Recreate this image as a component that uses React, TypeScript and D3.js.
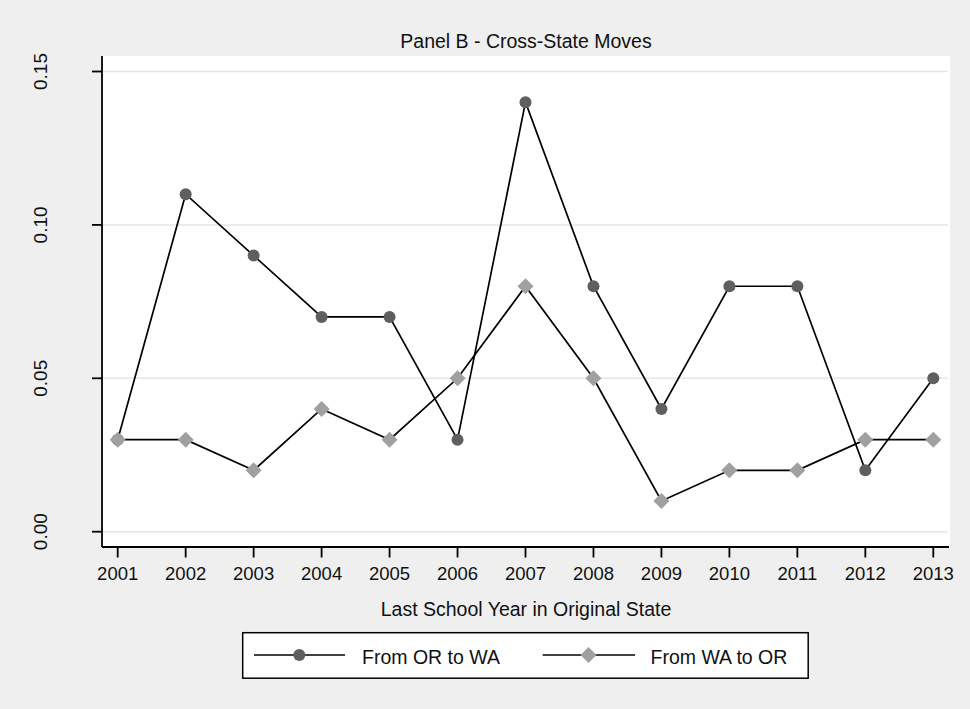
import * as d3 from "d3";

const years = [2001, 2002, 2003, 2004, 2005, 2006, 2007, 2008, 2009, 2010, 2011, 2012, 2013];
const orToWa = [0.03, 0.11, 0.09, 0.07, 0.07, 0.03, 0.14, 0.08, 0.04, 0.08, 0.08, 0.02, 0.05];
const waToOr = [0.03, 0.03, 0.02, 0.04, 0.03, 0.05, 0.08, 0.05, 0.01, 0.02, 0.02, 0.03, 0.03];
const yTicks = [0, 0.05, 0.1, 0.15];

const W = 970;
const H = 709;
const FONT = "'Liberation Sans', Arial, sans-serif";

const plot = { left: 102, right: 950, top: 56, bottom: 547 };

export default function App() {
  const x = d3.scaleLinear().domain([2001, 2013]).range([117.7, 933.3]);
  const y = d3.scaleLinear().domain([0, 0.15]).range([531.7, 71.5]);

  const line = d3
    .line<number>()
    .x((_, i) => x(years[i]))
    .y((d) => y(d));

  const diamond = (cx: number, cy: number, r: number) =>
    `M${cx},${cy - r}L${cx + r},${cy}L${cx},${cy + r}L${cx - r},${cy}Z`;

  const legendY = 655;

  return (
    <svg
      width={W}
      height={H}
      style={{ position: "absolute", left: 0, top: 0, display: "block" }}
      fontFamily={FONT}
    >
      <rect x={0} y={0} width={W} height={H} fill="#efefef" />
      <rect
        x={plot.left}
        y={plot.top}
        width={plot.right - plot.left}
        height={plot.bottom - plot.top}
        fill="#ffffff"
      />

      {/* gridlines */}
      {yTicks.map((t) => (
        <line
          key={"g" + t}
          x1={plot.left}
          x2={plot.right - 2}
          y1={y(t)}
          y2={y(t)}
          stroke="#e6e6e6"
          strokeWidth={1.5}
        />
      ))}

      {/* title */}
      <text x={526} y={48} textAnchor="middle" fontSize={19.5} fill="#111">
        Panel B - Cross-State Moves
      </text>

      {/* y axis */}
      <line x1={plot.left} x2={plot.left} y1={plot.top} y2={plot.bottom} stroke="#000" strokeWidth={1.8} />
      {yTicks.map((t) => (
        <g key={"y" + t}>
          <line x1={92} x2={plot.left} y1={y(t)} y2={y(t)} stroke="#000" strokeWidth={1.8} />
          <text
            transform={`translate(46.5,${y(t)}) rotate(-90)`}
            textAnchor="middle"
            fontSize={19}
            fill="#111"
          >
            {d3.format(".2f")(t)}
          </text>
        </g>
      ))}

      {/* x axis */}
      <line x1={plot.left} x2={plot.right - 1} y1={plot.bottom} y2={plot.bottom} stroke="#000" strokeWidth={1.8} />
      {years.map((yr) => (
        <g key={"x" + yr}>
          <line x1={x(yr)} x2={x(yr)} y1={plot.bottom} y2={557.5} stroke="#000" strokeWidth={1.8} />
          <text x={x(yr)} y={580} textAnchor="middle" fontSize={18.5} fill="#111">
            {yr}
          </text>
        </g>
      ))}
      <text x={526} y={616} textAnchor="middle" fontSize={19.5} fill="#111">
        Last School Year in Original State
      </text>

      {/* series */}
      <path d={line(orToWa) ?? ""} fill="none" stroke="#000" strokeWidth={1.7} />
      {orToWa.map((v, i) => (
        <circle key={"c" + i} cx={x(years[i])} cy={y(v)} r={6} fill="#5f5f5f" />
      ))}
      <path d={line(waToOr) ?? ""} fill="none" stroke="#000" strokeWidth={1.7} />
      {waToOr.map((v, i) => (
        <path key={"d" + i} d={diamond(x(years[i]), y(v), 8)} fill="#a0a0a0" />
      ))}

      {/* legend */}
      <rect x={242.7} y={632.7} width={565.5} height={45.5} fill="#fff" stroke="#000" strokeWidth={1.5} />
      <line x1={254} x2={345} y1={legendY} y2={legendY} stroke="#000" strokeWidth={1.7} />
      <circle cx={299.3} cy={legendY} r={6} fill="#5f5f5f" />
      <text x={362} y={664} fontSize={19.5} fill="#111">
        From OR to WA
      </text>
      <line x1={542.7} x2={635} y1={legendY} y2={legendY} stroke="#000" strokeWidth={1.7} />
      <path d={diamond(588.5, legendY, 8)} fill="#a0a0a0" />
      <text x={650.5} y={664} fontSize={19.5} fill="#111">
        From WA to OR
      </text>
    </svg>
  );
}
